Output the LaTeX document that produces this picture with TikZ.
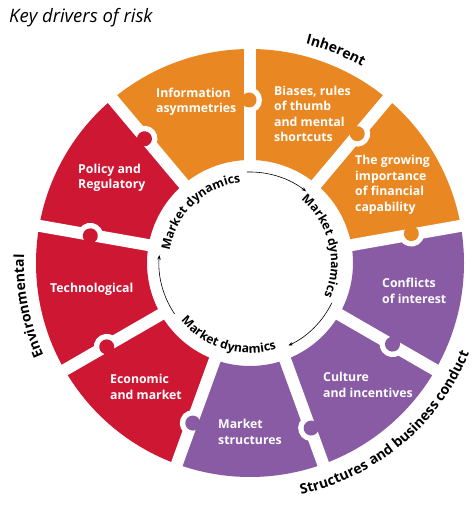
\documentclass[tikz,border=0pt]{standalone}
\usepackage{fontspec}
\setmainfont{Open Sans}
\usetikzlibrary{decorations.text,arrows.meta}
\definecolor{korange}{RGB}{233,136,34}
\definecolor{kred}{RGB}{205,23,51}
\definecolor{kpurple}{RGB}{138,91,165}
\newcommand{\mdfont}{\bfseries\fontsize{12.2}{14}\selectfont}
\newcommand{\catfont}{\bfseries\fontsize{14}{16}\selectfont}
\tikzset{
  lab/.style={text=white, font=\bfseries\fontsize{12.3}{15.5}\selectfont, align=left, anchor=west, inner sep=0pt},
  flow/.style={draw=black, line width=0.6pt, -{Stealth[length=4.5pt,width=3.5pt]}}
}
\begin{document}
\begin{tikzpicture}[x=1pt,y=1pt]
\useasboundingbox (0,0) rectangle (474,514);
\coordinate (O) at (250,251);

% segments
\foreach \a/\c in {10/korange,50/korange,90/korange,130/kred,170/kred,210/kred,250/kpurple,290/kpurple,330/kpurple}{
  \fill[\c, shift={(O)}] (\a:214) arc[start angle=\a, end angle={\a+40}, radius=214]
     -- ({\a+40}:103) arc[start angle={\a+40}, end angle=\a, radius=103] -- cycle;
}
% gaps
\foreach \a in {10,50,90,130,170,210,250,290,330}{
  \fill[white, shift={(O)}, rotate=\a] (95,-6) rectangle (225,6);
}
% knobs
\foreach \a/\c/\r in {10/korange/164,50/korange/168,90/korange/163,130/kred/163,170/kred/162,210/kred/166,250/kpurple/170,290/kpurple/176,330/kpurple/164}{
  \begin{scope}[shift={(O)}, rotate=\a]
    \begin{scope}
      \clip (100,-30) rectangle (230,0);
      \fill[white] (\r,1) circle[radius=13];
    \end{scope}
    \fill[\c] (\r,1) circle[radius=7.5];
  \end{scope}
}

% segment labels
\node[lab] (info) at (156,412) {Information\\asymmetries};
\node[lab] (biases) at (274,400) {Biases, rules\\of thumb\\and mental\\shortcuts};
\node[lab] (growing) at (355,329) {The growing\\importance\\of financial\\capability};
\node[lab] (conflicts) at (382,223) {Conflicts\\of interest};
\node[lab] (culture) at (323,129) {Culture\\and incentives};
\node[lab] (mstruct) at (218,82) {Market\\structures};
\node[lab] (econ) at (110,127) {Economic\\and market};
\node[lab] (tech) at (50,225) {Technological};
\node[lab] (policy) at (78,336) {Policy and\\Regulatory};

% title
\node[anchor=base west, inner sep=0pt, font=\itshape\fontsize{18.5}{21}\selectfont] (title) at (9,491) {Key drivers of risk};

% market dynamics texts
\path[shift={(O)}, decorate, decoration={text along path, text format delimiters={|}{|}, text align=center, text={|\mdfont|Market dynamics}}]
  (194:81) arc[start angle=194, end angle=74, radius=81];
\path[shift={(O)}, decorate, decoration={text along path, text format delimiters={|}{|}, text align=center, text={|\mdfont|Market dynamics}}]
  (73.5:81) arc[start angle=73.5, end angle=-46.5, radius=81];
\path[shift={(O)}, decorate, decoration={text along path, text format delimiters={|}{|}, text align=center, text={|\mdfont|Market dynamics}}]
  (193.5:90) arc[start angle=193.5, end angle=313.5, radius=90];

% category texts
\path[shift={(O)}, decorate, decoration={text along path, text format delimiters={|}{|}, text align=center, text={|\catfont|Inherent}}]
  (108:226) arc[start angle=108, end angle=28, radius=226];
\path[shift={(O)}, decorate, decoration={text along path, text format delimiters={|}{|}, text align=center, text={|\catfont|Environmental}}]
  (231:226) arc[start angle=231, end angle=151, radius=226];
\path[shift={(O)}, decorate, decoration={text along path, text format delimiters={|}{|}, text align=center, text={|\catfont|Structures and business conduct}}]
  (250:237) arc[start angle=250, end angle=370, radius=237];

% flow arrows
\path[shift={(O)}] (92:91) coordinate (t1) (-26:91) coordinate (r1) (214:91) coordinate (l1);
\draw[flow] (t1) arc[start angle=92, end angle=52, radius=91];
\draw[flow] (r1) arc[start angle=-26, end angle=-65, radius=91];
\draw[flow] (l1) arc[start angle=214, end angle=175, radius=91];
\end{tikzpicture}
\end{document}
